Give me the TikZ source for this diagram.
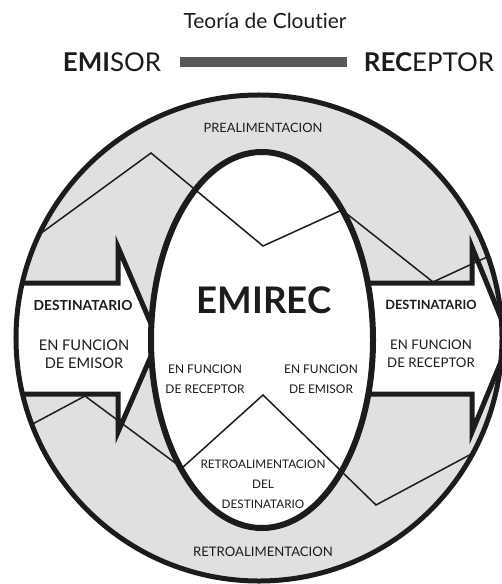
\documentclass[tikz,border=0pt]{standalone}
\usepackage{fontspec}
\setmainfont{Lato}[Ligatures={NoCommon}]
\definecolor{ringgray}{RGB}{224,224,224}
\definecolor{bargray}{RGB}{88,88,88}
\definecolor{ink}{RGB}{28,28,28}
\newcommand{\fs}[1]{\fontsize{#1}{#1}\selectfont}
\begin{document}
\begin{tikzpicture}[x=1bp,y=-1bp,
  thickline/.style={draw=ink,line width=5bp},
  arrowbox/.style={draw=ink,fill=white,line width=5bp,line join=miter,miter limit=20},
  zigzag/.style={draw=ink,line width=1.5bp,line join=miter},
  lbl/.style={inner sep=0pt,text=ink,align=center}]
\useasboundingbox (0,0) rectangle (502,584);

% heading
\node[lbl] (title) at (265,21) {\fs{21}Teoría de Cloutier};
\node[lbl] (emisor) at (112,62) {\fs{26}\textbf{EMI}SOR};
\node[lbl] (receptor) at (429,62) {\fs{26}\textbf{REC}EPTOR};
\node[fill=bargray,inner sep=0pt,minimum width=167bp,minimum height=10bp] (bar) at (263.5,62) {};

% outer ring
\coordinate (c) at (259,338);
\fill[ringgray] (c) circle[radius=243bp];

\begin{scope}
  \clip (c) circle[radius=243bp];
  % arrow towards the receiver
  \draw[arrowbox] (300,283) -- (472,283) -- (472,247) -- (510,340)
        -- (472,432) -- (472,394) -- (300,394) -- cycle;
  % arrow leaving the sender
  \draw[arrowbox] (0,283) -- (118,283) -- (118,247) -- (158,340)
        -- (118,432) -- (118,394) -- (0,394) -- cycle;
\end{scope}

% EMIREC core
\coordinate (e) at (262,340);
\draw[draw=ink,fill=white,line width=6bp] (e) ellipse[x radius=111bp,y radius=188bp];

% feed-forward and feedback paths
\coordinate (p1) at (40,234);
\coordinate (p2) at (151,153);
\coordinate (p3) at (263,246);
\coordinate (p4) at (342,210);
\coordinate (p5) at (433,282);
\coordinate (p6) at (500,251);
\coordinate (q1) at (27,427);
\coordinate (q2) at (85,396);
\coordinate (q3) at (182,468);
\coordinate (q4) at (263,395);
\coordinate (q5) at (376,505);
\coordinate (q6) at (490,444);
\begin{scope}
  \clip (c) circle[radius=243bp];
  \draw[zigzag] (p1) -- (p2) -- (p3) -- (p4) -- (p5) -- (p6);
  \draw[zigzag] (q1) -- (q2) -- (q3) -- (q4) -- (q5) -- (q6);
\end{scope}

\draw[thickline] (c) circle[radius=243bp];

% labels
\node[lbl] (prealim) at (263,128) {\fs{12.9}PREALIMENTACION};
\node[lbl] (emirec) at (264,300) {\fs{36.8}\textbf{EMIREC}};
\node[lbl] (destL) at (83,305) {\fs{13.9}\textbf{DESTINATARIO}};
\node[lbl,anchor=north,font=\fontsize{14.7}{18}\selectfont] (funL) at (84,339.6) {EN FUNCION\\DE EMISOR};
\node[lbl] (destR) at (431,305) {\fs{12.8}\textbf{DESTINATARIO}};
\node[lbl,anchor=north,font=\fontsize{13.3}{18}\selectfont] (funR) at (431,340) {EN FUNCION\\DE RECEPTOR};
\node[lbl,anchor=north,font=\fontsize{12}{20}\selectfont] (funMidL) at (205,364.5) {EN FUNCION\\DE RECEPTOR};
\node[lbl,anchor=north,font=\fontsize{12}{20}\selectfont] (funMidR) at (321,364.5) {EN FUNCION\\DE EMISOR};
\node[lbl,anchor=north,font=\fontsize{11.8}{20}\selectfont] (retroDest) at (263,459.5) {RETROALIMENTACION\\DEL\\DESTINATARIO};
\node[lbl] (retro) at (263,552) {\fs{13.2}RETROALIMENTACION};
\end{tikzpicture}
\end{document}
